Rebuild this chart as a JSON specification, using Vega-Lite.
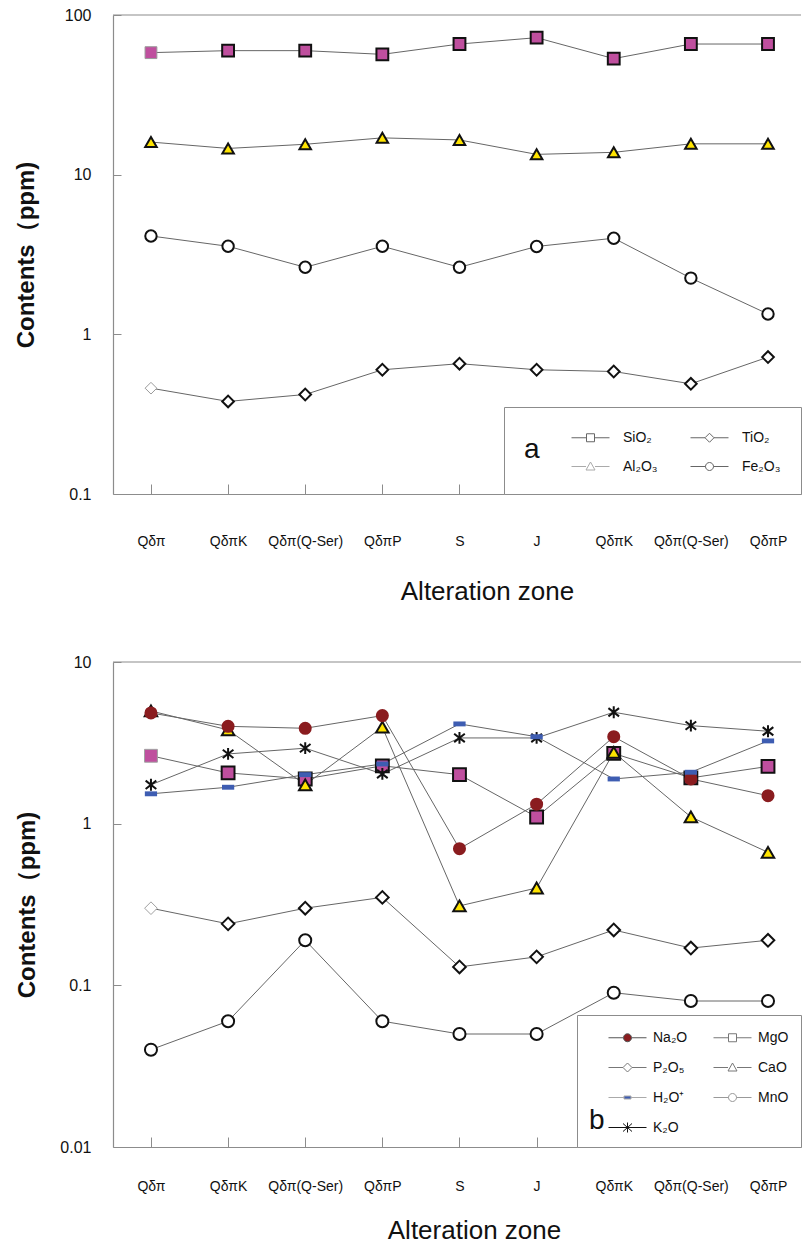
{
  "$schema": "https://vega.github.io/schema/vega-lite/v6.json",
  "padding": {"left": 14, "top": 7, "right": 0, "bottom": 0},
  "spacing": 50,
  "background": "white",
  "config": {
    "view": {"stroke": null},
    "axis": {
      "grid": false,
      "domainColor": "#8c8c8c",
      "tickColor": "#8c8c8c",
      "labelColor": "#111",
      "titleColor": "#111",
      "labelFont": "Liberation Sans Narrow, Liberation Sans, sans-serif",
      "titleFont": "Liberation Sans Narrow, Liberation Sans, sans-serif"
    },
    "axisX": {
      "labelAngle": 0,
      "labelFontSize": 14,
      "titleFontSize": 26,
      "titleFontWeight": "normal",
      "tickSize": -10,
      "domainWidth": 1.2
    },
    "axisY": {
      "labelFontSize": 16,
      "titleFontSize": 24,
      "titleFontWeight": "bold",
      "tickSize": -8,
      "labelPadding": 30,
      "domainWidth": 1.2
    },
    "legend": {
      "orient": "bottom-right",
      "offset": 0,
      "columns": 2,
      "titleOrient": "left",
      "titleAngle": 0,
      "titleFontSize": 28,
      "titleFontWeight": "normal",
      "titleFont": "Liberation Sans",
      "titleColor": "#111",
      "labelFont": "Liberation Sans",
      "labelFontSize": 14,
      "labelColor": "#111",
      "strokeColor": "#8c8c8c",
      "fillColor": "white",
      "symbolSize": 400,
      "symbolStrokeWidth": 1,
      "symbolOpacity": 1
    }
  },
  "datasets": {
    "major": [
      {"zone": "Qδπ", "oxide": "SiO₂", "ppm": 58.1},
      {"zone": "QδπK", "oxide": "SiO₂", "ppm": 59.8},
      {"zone": "Qδπ(Q-Ser)", "oxide": "SiO₂", "ppm": 59.8},
      {"zone": "QδπP", "oxide": "SiO₂", "ppm": 56.7},
      {"zone": "S", "oxide": "SiO₂", "ppm": 65.8},
      {"zone": "J", "oxide": "SiO₂", "ppm": 72.1},
      {"zone": "QδπK#2", "oxide": "SiO₂", "ppm": 53.3},
      {"zone": "Qδπ(Q-Ser)#2", "oxide": "SiO₂", "ppm": 65.8},
      {"zone": "QδπP#2", "oxide": "SiO₂", "ppm": 65.8},
      {"zone": "Qδπ", "oxide": "TiO₂", "ppm": 0.46},
      {"zone": "QδπK", "oxide": "TiO₂", "ppm": 0.38},
      {"zone": "Qδπ(Q-Ser)", "oxide": "TiO₂", "ppm": 0.42},
      {"zone": "QδπP", "oxide": "TiO₂", "ppm": 0.6},
      {"zone": "S", "oxide": "TiO₂", "ppm": 0.655},
      {"zone": "J", "oxide": "TiO₂", "ppm": 0.6},
      {"zone": "QδπK#2", "oxide": "TiO₂", "ppm": 0.585},
      {"zone": "Qδπ(Q-Ser)#2", "oxide": "TiO₂", "ppm": 0.49},
      {"zone": "QδπP#2", "oxide": "TiO₂", "ppm": 0.72},
      {"zone": "Qδπ", "oxide": "Al₂O₃", "ppm": 16.0},
      {"zone": "QδπK", "oxide": "Al₂O₃", "ppm": 14.6},
      {"zone": "Qδπ(Q-Ser)", "oxide": "Al₂O₃", "ppm": 15.5},
      {"zone": "QδπP", "oxide": "Al₂O₃", "ppm": 17.0},
      {"zone": "S", "oxide": "Al₂O₃", "ppm": 16.5},
      {"zone": "J", "oxide": "Al₂O₃", "ppm": 13.4},
      {"zone": "QδπK#2", "oxide": "Al₂O₃", "ppm": 13.8},
      {"zone": "Qδπ(Q-Ser)#2", "oxide": "Al₂O₃", "ppm": 15.6},
      {"zone": "QδπP#2", "oxide": "Al₂O₃", "ppm": 15.6},
      {"zone": "Qδπ", "oxide": "Fe₂O₃", "ppm": 4.13},
      {"zone": "QδπK", "oxide": "Fe₂O₃", "ppm": 3.56},
      {"zone": "Qδπ(Q-Ser)", "oxide": "Fe₂O₃", "ppm": 2.63},
      {"zone": "QδπP", "oxide": "Fe₂O₃", "ppm": 3.56},
      {"zone": "S", "oxide": "Fe₂O₃", "ppm": 2.63},
      {"zone": "J", "oxide": "Fe₂O₃", "ppm": 3.55},
      {"zone": "QδπK#2", "oxide": "Fe₂O₃", "ppm": 4.0},
      {"zone": "Qδπ(Q-Ser)#2", "oxide": "Fe₂O₃", "ppm": 2.25},
      {"zone": "QδπP#2", "oxide": "Fe₂O₃", "ppm": 1.34}
    ],
    "minor": [
      {"zone": "Qδπ", "oxide": "MgO", "ppm": 2.63},
      {"zone": "QδπK", "oxide": "MgO", "ppm": 2.06},
      {"zone": "Qδπ(Q-Ser)", "oxide": "MgO", "ppm": 1.89},
      {"zone": "QδπP", "oxide": "MgO", "ppm": 2.28},
      {"zone": "S", "oxide": "MgO", "ppm": 2.01},
      {"zone": "J", "oxide": "MgO", "ppm": 1.1},
      {"zone": "QδπK#2", "oxide": "MgO", "ppm": 2.72},
      {"zone": "Qδπ(Q-Ser)#2", "oxide": "MgO", "ppm": 1.92},
      {"zone": "QδπP#2", "oxide": "MgO", "ppm": 2.26},
      {"zone": "Qδπ", "oxide": "CaO", "ppm": 4.98},
      {"zone": "QδπK", "oxide": "CaO", "ppm": 3.8},
      {"zone": "Qδπ(Q-Ser)", "oxide": "CaO", "ppm": 1.74},
      {"zone": "QδπP", "oxide": "CaO", "ppm": 3.95},
      {"zone": "S", "oxide": "CaO", "ppm": 0.31},
      {"zone": "J", "oxide": "CaO", "ppm": 0.4},
      {"zone": "QδπK#2", "oxide": "CaO", "ppm": 2.76},
      {"zone": "Qδπ(Q-Ser)#2", "oxide": "CaO", "ppm": 1.1},
      {"zone": "QδπP#2", "oxide": "CaO", "ppm": 0.665},
      {"zone": "Qδπ", "oxide": "Na₂O", "ppm": 4.84},
      {"zone": "QδπK", "oxide": "Na₂O", "ppm": 4.0},
      {"zone": "Qδπ(Q-Ser)", "oxide": "Na₂O", "ppm": 3.89},
      {"zone": "QδπP", "oxide": "Na₂O", "ppm": 4.66},
      {"zone": "S", "oxide": "Na₂O", "ppm": 0.7},
      {"zone": "J", "oxide": "Na₂O", "ppm": 1.32},
      {"zone": "QδπK#2", "oxide": "Na₂O", "ppm": 3.45},
      {"zone": "Qδπ(Q-Ser)#2", "oxide": "Na₂O", "ppm": 1.89},
      {"zone": "QδπP#2", "oxide": "Na₂O", "ppm": 1.49},
      {"zone": "Qδπ", "oxide": "P₂O₅", "ppm": 0.3},
      {"zone": "QδπK", "oxide": "P₂O₅", "ppm": 0.24},
      {"zone": "Qδπ(Q-Ser)", "oxide": "P₂O₅", "ppm": 0.3},
      {"zone": "QδπP", "oxide": "P₂O₅", "ppm": 0.35},
      {"zone": "S", "oxide": "P₂O₅", "ppm": 0.13},
      {"zone": "J", "oxide": "P₂O₅", "ppm": 0.15},
      {"zone": "QδπK#2", "oxide": "P₂O₅", "ppm": 0.22},
      {"zone": "Qδπ(Q-Ser)#2", "oxide": "P₂O₅", "ppm": 0.17},
      {"zone": "QδπP#2", "oxide": "P₂O₅", "ppm": 0.19},
      {"zone": "Qδπ", "oxide": "MnO", "ppm": 0.04},
      {"zone": "QδπK", "oxide": "MnO", "ppm": 0.06},
      {"zone": "Qδπ(Q-Ser)", "oxide": "MnO", "ppm": 0.19},
      {"zone": "QδπP", "oxide": "MnO", "ppm": 0.06},
      {"zone": "S", "oxide": "MnO", "ppm": 0.05},
      {"zone": "J", "oxide": "MnO", "ppm": 0.05},
      {"zone": "QδπK#2", "oxide": "MnO", "ppm": 0.09},
      {"zone": "Qδπ(Q-Ser)#2", "oxide": "MnO", "ppm": 0.08},
      {"zone": "QδπP#2", "oxide": "MnO", "ppm": 0.08},
      {"zone": "Qδπ", "oxide": "K₂O", "ppm": 1.74},
      {"zone": "QδπK", "oxide": "K₂O", "ppm": 2.7},
      {"zone": "Qδπ(Q-Ser)", "oxide": "K₂O", "ppm": 2.93},
      {"zone": "QδπP", "oxide": "K₂O", "ppm": 2.03},
      {"zone": "S", "oxide": "K₂O", "ppm": 3.39},
      {"zone": "J", "oxide": "K₂O", "ppm": 3.39},
      {"zone": "QδπK#2", "oxide": "K₂O", "ppm": 4.89},
      {"zone": "Qδπ(Q-Ser)#2", "oxide": "K₂O", "ppm": 4.04},
      {"zone": "QδπP#2", "oxide": "K₂O", "ppm": 3.73},
      {"zone": "Qδπ", "oxide": "H₂O⁺", "ppm": 1.53},
      {"zone": "QδπK", "oxide": "H₂O⁺", "ppm": 1.68},
      {"zone": "Qδπ(Q-Ser)", "oxide": "H₂O⁺", "ppm": 2.01},
      {"zone": "QδπP", "oxide": "H₂O⁺", "ppm": 2.34},
      {"zone": "S", "oxide": "H₂O⁺", "ppm": 4.14},
      {"zone": "J", "oxide": "H₂O⁺", "ppm": 3.45},
      {"zone": "QδπK#2", "oxide": "H₂O⁺", "ppm": 1.89},
      {"zone": "Qδπ(Q-Ser)#2", "oxide": "H₂O⁺", "ppm": 2.08},
      {"zone": "QδπP#2", "oxide": "H₂O⁺", "ppm": 3.25}
    ]
  },
  "vconcat": [
    {
      "width": 688,
      "height": 479,
      "resolve": {"scale": {"shape": "independent", "fill": "independent", "stroke": "independent", "size": "independent", "strokeWidth": "independent"}},
      "layer": [
        {
          "data": {"name": "major"},
          "mark": {"type": "line", "color": "#666", "strokeWidth": 1},
          "encoding": {
            "x": {"field": "zone", "type": "ordinal", "sort": null, "scale": {"type": "point", "padding": 0.46, "align": 0.535},
                  "axis": {"title": "Alteration zone", "labelExpr": "split(datum.label, '#')[0]", "labelPadding": 50, "titlePadding": 30, "titleX": 374}},
            "y": {"field": "ppm", "type": "quantitative", "scale": {"type": "log", "domain": [0.1, 100]},
                  "axis": {"title": "Contents（ppm)", "values": [0.1, 1, 10, 100], "format": "~g", "titlePadding": 26}},
            "detail": {"field": "oxide"},
            "order": {"value": null}
          }
        },
        {
          "data": {"values": [{}]},
          "mark": {"type": "rule", "color": "#8c8c8c", "strokeWidth": 1.2},
          "encoding": {"y": {"datum": 100, "type": "quantitative"}}
        },
        {
          "data": {"name": "major"},
          "mark": {"type": "point", "filled": true, "opacity": 1},
          "encoding": {
            "x": {"field": "zone", "type": "ordinal", "sort": null},
            "y": {"field": "ppm", "type": "quantitative"},
            "shape": {"field": "oxide", "legend": null, "scale": {"domain": ["SiO₂", "TiO₂", "Al₂O₃", "Fe₂O₃"], "range": ["square", "diamond", "triangle-up", "circle"]}},
            "fill": {"field": "oxide", "legend": null, "scale": {"domain": ["SiO₂", "TiO₂", "Al₂O₃", "Fe₂O₃"], "range": ["#BF4F9E", "white", "#FFE400", "white"]}},
            "stroke": {
              "condition": {"test": "datum.zone === 'Qδπ' && indexof(['SiO₂', 'TiO₂'], datum.oxide) >= 0", "value": "#9a9a9a"},
              "field": "oxide", "legend": null, "scale": {"domain": ["SiO₂", "TiO₂", "Al₂O₃", "Fe₂O₃"], "range": ["#111", "#111", "#111", "#111"]}
            },
            "strokeWidth": {"condition": {"test": "datum.zone === 'Qδπ' && indexof(['SiO₂', 'TiO₂'], datum.oxide) >= 0", "value": 1}, "value": 2},
            "size": {"field": "oxide", "legend": null, "scale": {"domain": ["SiO₂", "TiO₂", "Al₂O₃", "Fe₂O₃"], "range": [140, 130, 190, 100]}}
          }
        },
        {
          "data": {"name": "major"},
          "mark": {"type": "point", "filled": true, "opacity": 0},
          "encoding": {
            "x": {"field": "zone", "type": "ordinal", "sort": null},
            "y": {"field": "ppm", "type": "quantitative"},
            "shape": {
              "field": "oxide",
              "scale": {"domain": ["SiO₂", "Al₂O₃", "TiO₂", "Fe₂O₃"], "range": [
                "M-1.9,0H-0.4M0.4,0H1.9M-0.4,-0.4H0.4V0.4H-0.4Z",
                "M-1.9,0H-0.45M0.45,0H1.9M-0.45,0.35L0,-0.45L0.45,0.35Z",
                "M-1.9,0H-0.45M0.45,0H1.9M-0.45,0L0,-0.45L0.45,0L0,0.45Z",
                "M-1.9,0H-0.4M0.4,0H1.9M-0.4,0A0.4,0.4,0,1,0,0.4,0A0.4,0.4,0,1,0,-0.4,0Z"
              ]},
              "legend": {"title": "a", "padding": 20, "titlePadding": 40, "columnPadding": 30, "rowPadding": 11, "labelOffset": 22, "titleAnchor": "middle"}
            },
            "fill": {"field": "oxide", "scale": {"domain": ["SiO₂", "Al₂O₃", "TiO₂", "Fe₂O₃"], "range": ["white", "white", "white", "white"]}},
            "stroke": {"field": "oxide", "scale": {"domain": ["SiO₂", "Al₂O₃", "TiO₂", "Fe₂O₃"], "range": ["#666", "#aaa", "#666", "#666"]}}
          }
        }
      ]
    },
    {
      "width": 688,
      "height": 485,
      "resolve": {"scale": {"shape": "independent", "fill": "independent", "stroke": "independent", "size": "independent", "strokeWidth": "independent"}},
      "layer": [
        {
          "data": {"name": "minor"},
          "mark": {"type": "line", "color": "#666", "strokeWidth": 1},
          "encoding": {
            "x": {"field": "zone", "type": "ordinal", "sort": null, "scale": {"type": "point", "padding": 0.46, "align": 0.535},
                  "axis": {"title": "Alteration zone", "labelExpr": "split(datum.label, '#')[0]", "labelPadding": 42, "titlePadding": 24, "titleX": 361}},
            "y": {"field": "ppm", "type": "quantitative", "scale": {"type": "log", "domain": [0.01, 10]},
                  "axis": {"title": "Contents（ppm)", "values": [0.01, 0.1, 1, 10], "format": "~g", "titlePadding": 20}},
            "detail": {"field": "oxide"},
            "order": {"value": null}
          }
        },
        {
          "data": {"values": [{}]},
          "mark": {"type": "rule", "color": "#8c8c8c", "strokeWidth": 1.2},
          "encoding": {"y": {"datum": 10, "type": "quantitative"}}
        },
        {
          "data": {"name": "minor"},
          "mark": {"type": "point", "filled": true, "opacity": 1},
          "encoding": {
            "x": {"field": "zone", "type": "ordinal", "sort": null},
            "y": {"field": "ppm", "type": "quantitative"},
            "shape": {"field": "oxide", "legend": null, "scale": {"domain": ["Na₂O", "MgO", "P₂O₅", "CaO", "H₂O⁺", "MnO", "K₂O"], "range": ["circle", "square", "diamond", "triangle-up", "M-1,-0.4H1V0.4H-1Z", "circle", "M0,-1V1M-0.9,-0.7L0.9,0.7M-0.9,0.7L0.9,-0.7"]}},
            "fill": {"field": "oxide", "legend": null, "scale": {"domain": ["Na₂O", "MgO", "P₂O₅", "CaO", "H₂O⁺", "MnO", "K₂O"], "range": ["#8A1C1F", "#BF4F9E", "white", "#FFE400", "#3E5DB2", "white", "black"]}},
            "stroke": {
              "condition": {"test": "datum.zone === 'Qδπ' && indexof(['MgO', 'P₂O₅'], datum.oxide) >= 0", "value": "#a0a0a0"},
              "field": "oxide", "legend": null, "scale": {"domain": ["Na₂O", "MgO", "P₂O₅", "CaO", "H₂O⁺", "MnO", "K₂O"], "range": ["transparent", "#111", "#111", "#111", "transparent", "#111", "#111"]}
            },
            "strokeWidth": {"condition": {"test": "datum.zone === 'Qδπ' && indexof(['MgO', 'P₂O₅'], datum.oxide) >= 0", "value": 1}, "value": 2},
            "size": {"field": "oxide", "legend": null, "scale": {"domain": ["Na₂O", "MgO", "P₂O₅", "CaO", "H₂O⁺", "MnO", "K₂O"], "range": [170, 140, 130, 190, 56, 100, 320]}}
          }
        },
        {
          "data": {"name": "minor"},
          "mark": {"type": "point", "filled": true, "opacity": 0},
          "encoding": {
            "x": {"field": "zone", "type": "ordinal", "sort": null},
            "y": {"field": "ppm", "type": "quantitative"},
            "shape": {
              "field": "oxide",
              "scale": {"domain": ["Na₂O", "P₂O₅", "H₂O⁺", "K₂O", "MgO", "CaO", "MnO"], "range": [
                "M-1.9,0H-0.4M0.4,0H1.9M-0.4,0A0.4,0.4,0,1,0,0.4,0A0.4,0.4,0,1,0,-0.4,0Z",
                "M-1.9,0H-0.45M0.45,0H1.9M-0.45,0L0,-0.45L0.45,0L0,0.45Z",
                "M-1.9,0H-0.35M0.35,0H1.9M-0.35,-0.15H0.35V0.15H-0.35Z",
                "M-1.9,0H1.9M0,-0.5V0.5M-0.45,-0.4L0.45,0.4M-0.45,0.4L0.45,-0.4",
                "M-1.9,0H-0.4M0.4,0H1.9M-0.4,-0.4H0.4V0.4H-0.4Z",
                "M-1.9,0H-0.45M0.45,0H1.9M-0.45,0.35L0,-0.45L0.45,0.35Z",
                "M-1.9,0H-0.4M0.4,0H1.9M-0.4,0A0.4,0.4,0,1,0,0.4,0A0.4,0.4,0,1,0,-0.4,0Z"
              ]},
              "legend": {"title": "b", "padding": 12, "titlePadding": 12, "columnPadding": 23, "rowPadding": 12, "labelOffset": 15, "titleAnchor": "end"}
            },
            "fill": {"field": "oxide", "scale": {"domain": ["Na₂O", "P₂O₅", "H₂O⁺", "K₂O", "MgO", "CaO", "MnO"], "range": ["#8A1C1F", "white", "#3E5DB2", "black", "white", "white", "white"]}},
            "stroke": {"field": "oxide", "scale": {"domain": ["Na₂O", "P₂O₅", "H₂O⁺", "K₂O", "MgO", "CaO", "MnO"], "range": ["#555", "#777", "#aaa", "#111", "#777", "#777", "#999"]}}
          }
        }
      ]
    }
  ]
}
